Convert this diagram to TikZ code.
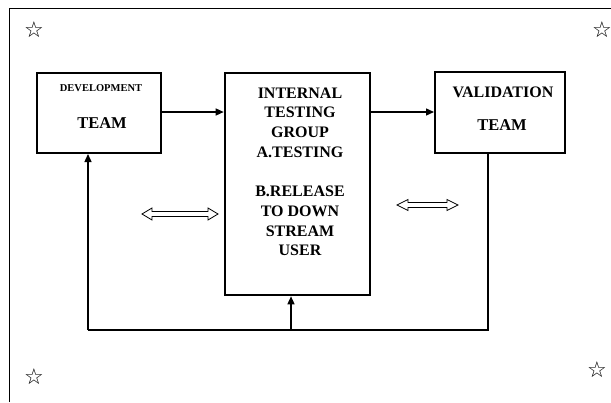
\documentclass[tikz,border=0pt]{standalone}
\usepackage{fontspec}
\setmainfont{Liberation Serif}
\newfontfamily\symfont{DejaVu Sans}
\usetikzlibrary{arrows.meta}
\begin{document}
\begin{tikzpicture}[x=1pt,y=-1pt,
  box/.style={draw,line width=2pt,inner sep=0pt},
  label/.style={font=\bfseries,inner sep=0pt,align=center},
  link/.style={line width=1.4pt,-{Triangle[length=8pt,width=7pt]}},
  wire/.style={line width=1.6pt},
  twoway/.style={draw,line width=0.8pt,fill=white,line join=miter},
  star/.style={font=\symfont\fontsize{22}{22}\selectfont,inner sep=0pt}]
\useasboundingbox (0,0) rectangle (611,402);
\fill[white] (0,0) rectangle (611,402);
% page frame
\draw[line width=0.8pt] (9,402) -- (9,8) -- (611,8);
% corner stars
\node[star] (s1) at (34,30) {☆};
\node[star] (s2) at (602,30) {☆};
\node[star] (s3) at (34,377) {☆};
\node[star] (s4) at (597,370) {☆};
% boxes
\node[box,minimum width=124pt,minimum height=80pt] (dev) at (99,113) {};
\node[box,line width=2.6pt,minimum width=145pt,minimum height=222pt] (itg) at (297.5,184) {};
\node[box,minimum width=130pt,minimum height=81pt] (val) at (500,112.5) {};
% box texts
\node[label,font=\bfseries\fontsize{10.5}{12}\selectfont] (devt1) at (101,88) {DEVELOPMENT};
\node[label,font=\bfseries\fontsize{16.5}{18}\selectfont] (devt2) at (102,123) {TEAM};
\node[label,font=\bfseries\fontsize{16}{19.7}\selectfont,anchor=north] (itgt) at (300,87.5)
  {INTERNAL\\TESTING\\GROUP\\A.TESTING\\[19.7pt]B.RELEASE\\TO DOWN\\STREAM\\USER};
\node[label,font=\bfseries\fontsize{16}{18}\selectfont] (valt1) at (503,92) {VALIDATION};
\node[label,font=\bfseries\fontsize{16.5}{18}\selectfont] (valt2) at (502,125) {TEAM};
% forward flow
\draw[link] (dev.east |- 0,112) -- (itg.west |- 0,112);
\draw[link] (itg.east |- 0,112) -- (val.west |- 0,112);
% feedback loop along the bottom
\coordinate (vb) at (488,330);
\coordinate (db) at (88,330);
\coordinate (ib) at (291,330);
\draw[wire] (val.south -| vb) -- (vb) -- (db);
\draw[link] (db) -- (dev.south -| db);
\draw[link] (ib) -- (itg.south -| ib);
% two-way exchange arrows (hollow outlines)
\draw[twoway] (142,214) -- ++(10,-6) -- ++(0,3.5) -- ++(56,0) -- ++(0,-3.5) -- ++(10,6)
  -- ++(-10,6) -- ++(0,-3.5) -- ++(-56,0) -- ++(0,3.5) -- cycle;
\draw[twoway] (397,205) -- ++(11,-5.5) -- ++(0,3) -- ++(39,0) -- ++(0,-3) -- ++(11,5.5)
  -- ++(-11,5.5) -- ++(0,-3) -- ++(-39,0) -- ++(0,3) -- cycle;
\end{tikzpicture}
\end{document}
